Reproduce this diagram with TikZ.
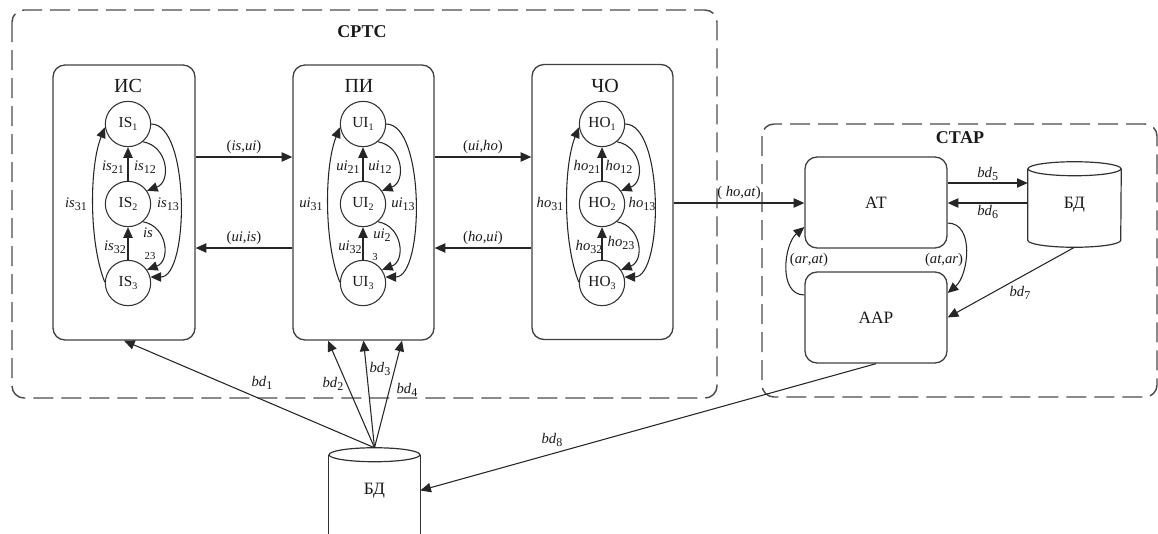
\documentclass[tikz,border=0pt]{standalone}
\usepackage{fontspec}
\setmainfont{Liberation Serif}
\usetikzlibrary{arrows.meta}

% small lowered indices for state names and transition labels
\newcommand\ssub[1]{\raisebox{-0.45ex}{\fontsize{7.5}{8}\selectfont #1}}
\newcommand\lsub[1]{\raisebox{-0.4ex}{\fontsize{9}{10}\selectfont #1}}
\newcommand\alab[2]{\textit{#1}\lsub{#2}}

\tikzset{
  base/.style={font=\fontsize{11}{13}\selectfont, text=black!90},
  conn/.style={draw=black!85, line width=0.8pt},
  arr/.style={conn, -{Triangle[length=8pt,width=7pt]}},
  group/.style={draw=black!70, line width=1.1pt, dash pattern=on 15pt off 6pt, rounded corners=9pt},
  block/.style={base, rectangle, draw=black!75, line width=1pt, rounded corners=9pt, inner sep=0pt,
    font=\fontsize{13}{15}\selectfont},
  state/.style={base, circle, draw=black!80, line width=0.8pt, minimum size=34pt, inner sep=0pt,
    font=\fontsize{11.5}{13}\selectfont},
  lbl/.style={base, inner sep=0.5pt},
  head/.style={base, inner sep=0.5pt, font=\fontsize{15}{17}\selectfont},
  title/.style={base, font=\fontsize{13.5}{15}\selectfont\bfseries},
  dbtext/.style={base, rectangle, inner sep=0pt, font=\fontsize{13}{15}\selectfont},
  dbline/.style={draw=black!80, line width=0.9pt},
}

% three-state automaton: #1 prefix, #2 centre x, #3 state name, #4 label stem, #5 extra labels
\newcommand\machine[5]{%
  \node[state] (#1a) at (#2,-124) {#3\ssub{1}};
  \node[state] (#1b) at (#2,-204) {#3\ssub{2}};
  \node[state] (#1c) at (#2,-283) {#3\ssub{3}};
  \draw[arr] (#1b) -- (#1a);
  \draw[arr] (#1c) -- (#1b);
  \draw[arr] (#1a.-50) to[out=-10,in=20,looseness=1.35] (#1b.35);
  \draw[arr] (#1b.-50) to[out=-10,in=20,looseness=1.35] (#1c.35);
  \draw[arr] (#1a.east) to[out=0,in=0,looseness=0.65] (#1c.15);
  \draw[arr] (#1c.178) to[out=112,in=-112,looseness=0.7] (#1a.188);
  \node[lbl] (#1t21) at (#2-15,-167) {\alab{#4}{21}};
  \node[lbl] (#1t12) at (#2+17,-167) {\alab{#4}{12}};
  \node[lbl] (#1t31) at (#2-52,-204) {\alab{#4}{31}};
  \node[lbl] (#1t13) at (#2+40,-204) {\alab{#4}{13}};
  \node[lbl] (#1t32) at (#2-13,-247) {\alab{#4}{32}};
  #5}

\begin{document}
\begin{tikzpicture}[x=0.75pt,y=0.75pt]
\useasboundingbox (0,0) rectangle (1158,-533);
\clip (0,0) rectangle (1158,-533);

% subsystem frames
\draw[group] (12,-10) rectangle (717,-398);
\node[title] (srts) at (362,-32) {СРТС};
\draw[group] (762,-124) rectangle (1157,-397);
\node[title] (star) at (960,-138) {СТАР};

% blocks
\node[block, minimum width=106.5pt, minimum height=206.25pt] (IC) at (124,-202.5) {};
\node[block, minimum width=105.75pt, minimum height=206.25pt] (PI) at (363.5,-202.5) {};
\node[block, minimum width=105.75pt, minimum height=206.25pt] (CO) at (602.5,-202) {};
\node[block, minimum width=106.5pt, minimum height=68.25pt] (AT) at (876,-202.5) {АТ};
\node[block, minimum width=106.5pt, minimum height=68.25pt] (AAR) at (876,-317.5) {ААР};
\node[head] (ICt) at (128,-86) {ИС};
\node[head] (PIt) at (359,-86) {ПИ};
\node[head] (COt) at (605,-86) {ЧО};

% automata
\machine{is}{128}{IS}{is}{%
  \node[lbl] (ist23a) at (148,-233) {\textit{is}};
  \node[lbl] (ist23b) at (150,-256) {\fontsize{8}{9}\selectfont 23};}
\machine{ui}{363}{UI}{ui}{%
  \node[lbl] (uit23a) at (382,-235) {\textit{ui}\lsub{2}};
  \node[lbl] (uit23b) at (375,-257) {\fontsize{8}{9}\selectfont 3};}
\machine{ho}{602}{HO}{ho}{%
  \node[lbl] (hot23) at (621,-243) {\alab{ho}{23}};}

% databases
\node[dbtext, minimum width=69.75pt, minimum height=63.75pt] (dbR) at (1074.5,-204.5) {БД};
\draw[dbline] ([yshift=-5.25pt]dbR.north west) -- ([yshift=5.25pt]dbR.south west)
  arc[start angle=180, end angle=360, x radius=34.875pt, y radius=5.25pt]
  -- ([yshift=-5.25pt]dbR.north east);
\draw[dbline] ([yshift=-5.25pt]dbR.north) ellipse[x radius=34.875pt, y radius=5.25pt];

\node[dbtext, minimum width=68.25pt, minimum height=63.75pt] (dbB) at (374.5,-490.5) {БД};
\draw[dbline] ([yshift=-5.25pt]dbB.north west) -- ([yshift=-14pt]dbB.south west);
\draw[dbline] ([yshift=-5.25pt]dbB.north east) -- ([yshift=-14pt]dbB.south east);
\draw[dbline] ([yshift=-5.25pt]dbB.north) ellipse[x radius=34.125pt, y radius=5.25pt];

% levels of horizontal links
\coordinate (yA) at (0,-157);
\coordinate (yB) at (0,-248);
\coordinate (yC) at (0,-203);
\coordinate (yD) at (0,-183);

% links between blocks
\draw[arr] (IC.east |- yA) -- (PI.west |- yA)
  node[lbl, midway, above=1.5pt] (lisui) {(\textit{is},\textit{ui})};
\draw[arr] (PI.west |- yB) -- (IC.east |- yB)
  node[lbl, midway, above=1.5pt] (luiis) {(\textit{ui},\textit{is})};
\draw[arr] (PI.east |- yA) -- (CO.west |- yA)
  node[lbl, midway, above=1.5pt] (luiho) {(\textit{ui},\textit{ho})};
\draw[arr] (CO.west |- yB) -- (PI.east |- yB)
  node[lbl, midway, above=1.5pt] (lhoui) {(\textit{ho},\textit{ui})};
\draw[arr] (CO.east |- yC) -- (AT.west |- yC)
  node[lbl, midway, above=2pt] (lhoat) {( \textit{ho},\textit{at})};

\draw[arr] (AT.east |- yD) -- (dbR.west |- yD)
  node[lbl, midway, above=1pt] (lbd5) {\alab{bd}{5}};
\draw[arr] (dbR.west |- yC) -- (AT.east |- yC)
  node[lbl, midway, below=1pt] (lbd6) {\alab{bd}{6}};

\draw[arr] ([yshift=-15.4pt]AT.east) to[out=0,in=40] ([yshift=18.4pt]AAR.east);
\draw[arr] ([yshift=16.9pt]AAR.west) to[out=180,in=-140] ([yshift=-18.4pt]AT.west);
\node[lbl] (latar) at (944,-260) {(\textit{at},\textit{ar})};
\node[lbl] (larat) at (809,-260) {(\textit{ar},\textit{at})};

\draw[arr] (dbR.south) -- (AAR.east);
\node[lbl] (lbd7) at (1020,-293) {\alab{bd}{7}};

% database feeds
\draw[arr] (dbB.north) -- (IC.south);
\draw[arr] (dbB.north) -- ([xshift=-26.6pt]PI.south);
\draw[arr] (dbB.north) -- (PI.south);
\draw[arr] (dbB.north) -- ([xshift=28.9pt]PI.south);
\node[lbl] (lbd1) at (262,-383) {\alab{bd}{1}};
\node[lbl] (lbd2) at (333,-384) {\alab{bd}{2}};
\node[lbl] (lbd3) at (380,-369) {\alab{bd}{3}};
\node[lbl] (lbd4) at (407,-390) {\alab{bd}{4}};

\draw[arr] (AAR.south) -- (dbB.east);
\node[lbl] (lbd8) at (552,-440) {\alab{bd}{8}};
\end{tikzpicture}
\end{document}
